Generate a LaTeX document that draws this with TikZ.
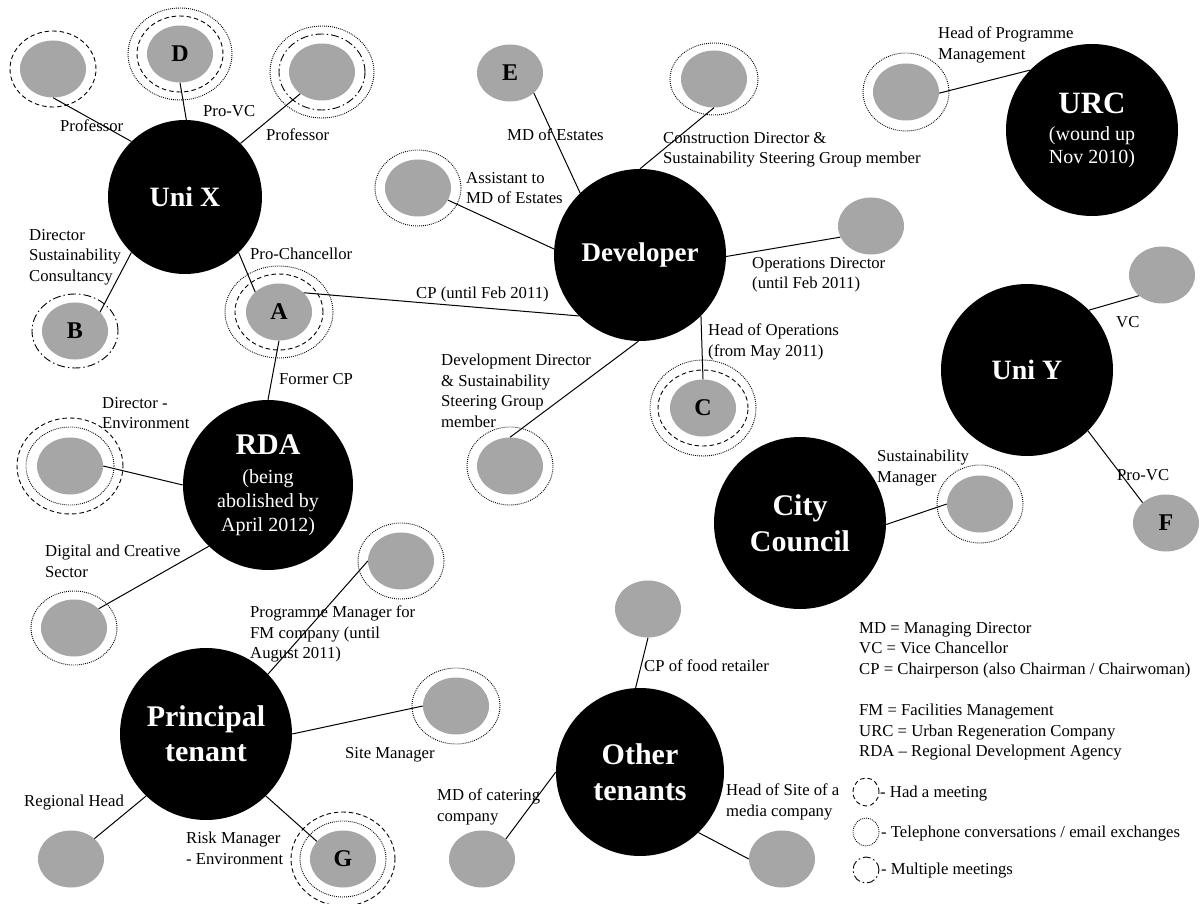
\documentclass[tikz,border=0pt]{standalone}
\usepackage{fontspec}
\setmainfont{Liberation Serif}
\usetikzlibrary{shapes.geometric}
\definecolor{gry}{RGB}{166,166,166}
\begin{document}
\begin{tikzpicture}[x=1pt,y=-1pt,
  bigc/.style={circle, fill=black, text=white, inner sep=0pt, minimum size=172pt, align=center},
  pers/.style={ellipse, fill=gry, inner sep=0pt, minimum width=66pt, minimum height=57pt, font=\fontsize{24}{26}\selectfont\bfseries},
  lab/.style={anchor=north west, inner sep=0pt, align=left, yshift=6pt, font=\fontsize{16.7}{20.5}\selectfont},
  conn/.style={line width=1pt},
  rdash/.style={line width=0.9pt, dash pattern=on 4.5pt off 3pt},
  rdot/.style={line width=0.9pt, dash pattern=on 0.9pt off 1.1pt},
  rdd/.style={line width=0.9pt, dash pattern=on 8pt off 3pt on 1.5pt off 3pt},
  ]
\useasboundingbox (0,0) rectangle (1203,904);
\fill[white] (0,0) rectangle (1203,904);

% big circles
\node[bigc, minimum size=154pt, font=\fontsize{28}{30}\selectfont\bfseries] (unix) at (185,197) {Uni X};
\node[bigc, font=\fontsize{27}{30}\selectfont\bfseries] (dev) at (640,255) {Developer};
\node[bigc, font=\fontsize{20}{23}\selectfont] (urc) at (1092,130) {{\fontsize{31}{31}\selectfont\bfseries URC}\\[4pt](wound up\\Nov 2010)};
\node[bigc, font=\fontsize{28}{30}\selectfont\bfseries] (uniy) at (1027,370) {Uni Y};
\node[bigc, font=\fontsize{30}{36}\selectfont\bfseries] (city) at (800,523) {City\\Council};
\node[bigc, minimum size=170pt, font=\fontsize{20}{24}\selectfont] (rda) at (268,485) {{\fontsize{30}{30}\selectfont\bfseries RDA}\\[5pt](being\\abolished by\\April 2012)};
\node[bigc, font=\fontsize{30}{35}\selectfont\bfseries] (pt) at (206,734) {Principal\\tenant};
\node[bigc, minimum size=168pt, font=\fontsize{30}{36}\selectfont\bfseries] (ot) at (640,772) {Other\\tenants};

% persons
\node[pers] (p1) at (53,69) {};
\node[pers] (d) at (180,54) {D};
\node[pers] (p2) at (322,72) {};
\node[pers] (b) at (75,331) {B};
\node[pers] (a) at (279,312) {A};
\node[pers] (e) at (510,73) {E};
\node[pers] (cons) at (714,79) {};
\node[pers] (asst) at (418,188) {};
\node[pers] (ops) at (871,226) {};
\node[pers] (hpm) at (906,92) {};
\node[pers] (vc) at (1162,275) {};
\node[pers] (f) at (1166,523) {F};
\node[pers] (sm) at (980,504) {};
\node[pers] (c) at (703,408) {C};
\node[pers] (dd) at (510,466) {};
\node[pers] (env) at (70,466) {};
\node[pers] (dig) at (74,628) {};
\node[pers] (pm) at (401,561) {};
\node[pers] (site) at (456,706) {};
\node[pers] (g) at (343,859) {G};
\node[pers] (reg) at (71,859) {};
\node[pers] (cpf) at (648,609) {};
\node[pers] (mdc) at (482,859) {};
\node[pers] (hos) at (782,859) {};

% rings
\draw[rdash] (p1.center) ellipse [x radius=43pt, y radius=38pt];
\draw[rdash] (d.center) ellipse [x radius=43pt, y radius=38pt];
\draw[rdot] (d.center) ellipse [x radius=52pt, y radius=46pt];
\draw[rdd] (p2.center) ellipse [x radius=43pt, y radius=38pt];
\draw[rdot] (p2.center) ellipse [x radius=52pt, y radius=46pt];
\draw[rdd] (b.center) ellipse [x radius=43pt, y radius=37pt];
\draw[rdash] (a.center) ellipse [x radius=44pt, y radius=38pt];
\draw[rdot] (a.center) ellipse [x radius=54pt, y radius=46pt];
\draw[rdot] (cons.center) ellipse [x radius=44pt, y radius=36pt];
\draw[rdot] (asst.center) ellipse [x radius=43pt, y radius=38pt];
\draw[rdot] (hpm.center) ellipse [x radius=43pt, y radius=39pt];
\draw[rdash] (c.center) ellipse [x radius=45pt, y radius=38pt];
\draw[rdot] (c.center) ellipse [x radius=53pt, y radius=48pt];
\draw[rdot] (dd.center) ellipse [x radius=43pt, y radius=39pt];
\draw[rdot] (sm.center) ellipse [x radius=43pt, y radius=39pt];
\draw[rdot] (env.center) ellipse [x radius=44pt, y radius=39pt];
\draw[rdash] (env.center) ellipse [x radius=53pt, y radius=48pt];
\draw[rdot] (dig.center) ellipse [x radius=43pt, y radius=37pt];
\draw[rdot] (pm.center) ellipse [x radius=43pt, y radius=38pt];
\draw[rdot] (site.center) ellipse [x radius=44pt, y radius=38pt];
\draw[rdot] (g.center) ellipse [x radius=43pt, y radius=38pt];
\draw[rdash] (g.center) ellipse [x radius=52pt, y radius=47pt];

% connectors
\draw[conn] (p1.-90) -- (unix.134);
\draw[conn] (d.-90) -- (unix.89);
\draw[conn] (p2.225) -- (unix.44);
\draw[conn] (b.37) -- (unix.226);
\draw[conn] (a.140) -- (unix.-46);
\draw[conn] (a.38) -- (dev.225);
\draw[conn] (a.-90) -- (rda.90);
\draw[conn] (e.-40) -- (dev.134);
\draw[conn] (cons.-90) -- (dev.90);
\draw[conn] (asst.-22) -- (dev.176);
\draw[conn] (ops.200) -- (dev.-1);
\draw[conn] (c.90) -- (dev.-45);
\draw[conn] (dd.90) -- (dev.-91);
\draw[conn] (hpm.-2) -- (urc.136);
\draw[conn] (vc.222) -- (uniy.44);
\draw[conn] (uniy.-45) -- (f.139);
\draw[conn] (city.-1) -- (sm.180);
\draw[conn] (env.0) -- (rda.180);
\draw[conn] (rda.226) -- (dig.38);
\draw[conn] (pt.44) -- (pm.180);
\draw[conn] (pt.0) -- (site.180);
\draw[conn] (pt.226) -- (reg.41);
\draw[conn] (pt.-46) -- (g.146);
\draw[conn] (ot.93) -- (cpf.-90);
\draw[conn] (ot.180) -- (mdc.40);
\draw[conn] (ot.-46) -- (hos.180);

% labels
\node[lab] (l1) at (60,126) {Professor};
\node[lab] (l2) at (203,111) {Pro-VC};
\node[lab] (l3) at (266,135) {Professor};
\node[lab] (l4) at (29,235) {Director\\Sustainability\\Consultancy};
\node[lab] (l5) at (250,254) {Pro-Chancellor};
\node[lab] (l6) at (279,379) {Former CP};
\node[lab] (l7) at (416,293) {CP (until Feb 2011)};
\node[lab] (l8) at (507,135) {MD of Estates};
\node[lab] (l9) at (663,138) {Construction Director \&\\Sustainability Steering Group member};
\node[lab] (l10) at (466,178) {Assistant to\\MD of Estates};
\node[lab] (l11) at (752,263) {Operations Director\\(until Feb 2011)};
\node[lab] (l12) at (708,330) {Head of Operations\\(from May 2011)};
\node[lab] (l13) at (441,360) {Development Director\\\& Sustainability\\Steering Group\\member};
\node[lab] (l14) at (938,33) {Head of Programme\\Management};
\node[lab] (l15) at (1116,322) {VC};
\node[lab] (l16) at (1117,475) {Pro-VC};
\node[lab] (l17) at (877,456) {Sustainability\\Manager};
\node[lab] (l18) at (102,403) {Director -\\Environment};
\node[lab] (l19) at (45,551) {Digital and Creative\\Sector};
\node[lab] (l20) at (250,612) {Programme Manager for\\FM company (until\\August 2011)};
\node[lab] (l21) at (345,753) {Site Manager};
\node[lab] (l22) at (24,801) {Regional Head};
\node[lab] (l23) at (186,838) {Risk Manager\\- Environment};
\node[lab] (l24) at (644,666) {CP of food retailer};
\node[lab] (l25) at (437,795) {MD of catering\\company};
\node[lab] (l26) at (726,790) {Head of Site of a\\media company};

% legend
\node[lab] (lg1) at (859,628) {MD = Managing Director\\VC = Vice Chancellor\\CP = Chairperson (also Chairman / Chairwoman)};
\node[lab] (lg2) at (859,710) {FM = Facilities Management\\URC = Urban Regeneration Company\\RDA – Regional Development Agency};
\draw[rdash] (866,792) ellipse [x radius=13pt, y radius=14pt];
\draw[rdot] (866,832) ellipse [x radius=13pt, y radius=14pt];
\draw[rdd] (866,870) ellipse [x radius=13pt, y radius=13pt];
\node[lab] (lg3) at (880,792) {- Had a meeting};
\node[lab] (lg4) at (881,832) {- Telephone conversations / email exchanges};
\node[lab] (lg5) at (881,869) {- Multiple meetings};
\end{tikzpicture}
\end{document}
